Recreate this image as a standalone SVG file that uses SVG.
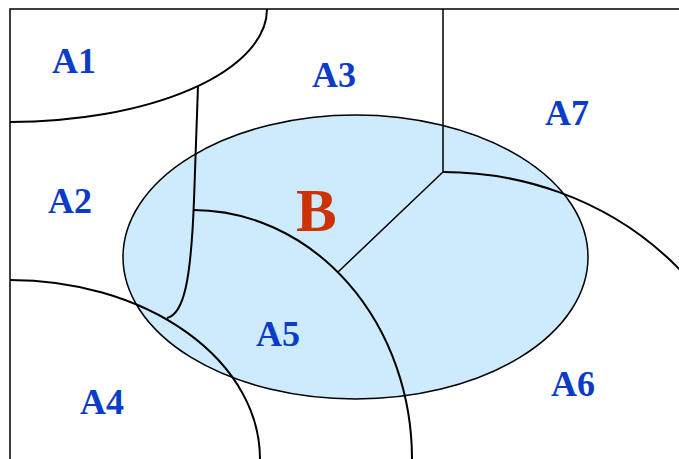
<svg xmlns="http://www.w3.org/2000/svg" width="679" height="459" viewBox="0 0 679 459">
<style>
.lbl{font-family:"Liberation Serif","Times New Roman",serif;font-weight:bold;font-size:36px;fill:#0a3cc8}
.big{font-family:"Liberation Serif","Times New Roman",serif;font-weight:bold;font-size:61px;fill:#cc3300}
.b{fill:none;stroke:#000;stroke-width:2}
.t{fill:none;stroke:#000;stroke-width:1.5}
</style>
<rect width="679" height="459" fill="#fff"/>
<g id="B">
<ellipse cx="355.5" cy="257" rx="232.5" ry="142" fill="#cdebfd" stroke="#000" stroke-width="1.5"/>
<text class="big" x="296" y="231">B</text>
</g>
<g id="connectors">
<path class="t" d="M10,459 L10,9 L679,9"/>
<path class="b" d="M10,122 A257,113 0 0 0 267,9"/>
<path class="b" d="M198,86 L194,200 C191,280 184,314 167,318"/>
<path class="b" d="M193,210 A219,249 0 0 1 412,459"/>
<path class="b" d="M10,280 A250,179 0 0 1 260,459"/>
<path class="t" d="M443,9 L443,172 L338,272"/>
<path class="b" d="M443,172 A315,287 0 0 1 758,459"/>
</g>
<g id="A1"><text class="lbl" x="52" y="73">A1</text></g>
<g id="A2"><text class="lbl" x="48" y="213">A2</text></g>
<g id="A3"><text class="lbl" x="312" y="87">A3</text></g>
<g id="A4"><text class="lbl" x="80" y="414">A4</text></g>
<g id="A5"><text class="lbl" x="256" y="346">A5</text></g>
<g id="A6"><text class="lbl" x="551" y="396">A6</text></g>
<g id="A7"><text class="lbl" x="545" y="125">A7</text></g>
</svg>
